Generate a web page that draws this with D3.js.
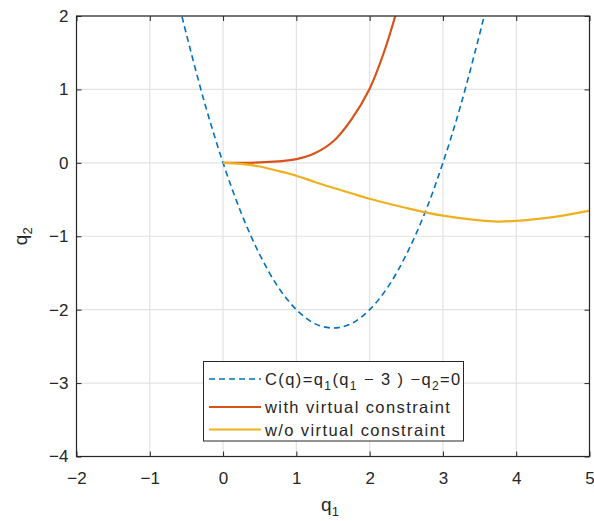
<!DOCTYPE html>
<html>
<head>
<meta charset="UTF-8">
<title></title>
<style>
  body { margin: 0; background: #fff; }
  text { font-family: "Liberation Sans", Arial, sans-serif; fill: #262626; }
</style>
</head>
<body>
<script src="https://cdn.jsdelivr.net/npm/d3@7"></script>
<script>

    // constraint curve C(q)=0
    var constraintQ1 = [-0.56, -0.5, -0.25, 0, 0.25, 0.5, 0.75, 1, 1.25, 1.5, 1.75, 2, 2.25, 2.5, 2.75, 3, 3.25, 3.5, 3.56];
    var constraintQ2 = [1.99, 1.75, 0.81, 0, -0.69, -1.25, -1.69, -2, -2.19, -2.25, -2.19, -2, -1.69, -1.25, -0.69, 0, 0.81, 1.75, 1.99];

    // with virtual constraint
    var withQ1 = [0, 0.25, 0.5, 0.75, 1, 1.25, 1.5, 1.75, 2, 2.2, 2.35];
    var withQ2 = [0, 0, 0.005, 0.02, 0.05, 0.13, 0.29, 0.59, 1.01, 1.52, 2.0];

    // without virtual constraint
    var woQ1 = [0, 0.25, 0.5, 0.75, 1, 1.25, 1.5, 1.75, 2, 2.5, 3, 3.5, 3.75, 4, 4.5, 5];
    var woQ2 = [0, -0.015, -0.05, -0.11, -0.175, -0.26, -0.34, -0.415, -0.49, -0.615, -0.72, -0.785, -0.8, -0.79, -0.74, -0.65];

    var xTicks = [-2, -1, 0, 1, 2, 3, 4, 5];
    var yTicks = [-4, -3, -2, -1, 0, 1, 2];

    var w = 594, h = 521;
    var pLeft = 76.5, pRight = 589.5, pTop = 16, pBottom = 456.5;

    var svg = d3.select('body').append('svg')
            .attr('width', w)
            .attr('height', h);

    var x = d3.scaleLinear().domain([-2, 5]).range([pLeft, pRight]);
    var y = d3.scaleLinear().domain([-4, 2]).range([pBottom, pTop]);

    var fmt = function(d) { return d < 0 ? '\u2212' + (-d) : d; };

    // grid
    svg.append('g').selectAll('line')
            .data(xTicks)
            .enter().append('line')
            .attr('x1', function(d) { return x(d); })
            .attr('x2', function(d) { return x(d); })
            .attr('y1', pTop).attr('y2', pBottom)
            .attr('stroke', '#e3e3e3').attr('stroke-width', 1.2);
    svg.append('g').selectAll('line')
            .data(yTicks)
            .enter().append('line')
            .attr('y1', function(d) { return y(d); })
            .attr('y2', function(d) { return y(d); })
            .attr('x1', pLeft).attr('x2', pRight)
            .attr('stroke', '#e3e3e3').attr('stroke-width', 1.2);

    svg.append('clipPath').attr('id', 'clip')
            .append('rect')
            .attr('x', pLeft).attr('y', pTop)
            .attr('width', pRight - pLeft).attr('height', pBottom - pTop);

    var line = d3.line()
            .x(function(d) { return x(d[0]); })
            .y(function(d) { return y(d[1]); })
            .curve(d3.curveCatmullRom);

    var plot = svg.append('g').attr('clip-path', 'url(#clip)');

    plot.append('path')
            .attr('d', line(d3.zip(constraintQ1, constraintQ2)))
            .attr('fill', 'none')
            .attr('stroke', '#0072BD')
            .attr('stroke-width', 1.6)
            .attr('stroke-dasharray', '6,4');

    plot.append('path')
            .attr('d', line(d3.zip(withQ1, withQ2)))
            .attr('fill', 'none')
            .attr('stroke', '#D95319')
            .attr('stroke-width', 2.2);

    plot.append('path')
            .attr('d', line(d3.zip(woQ1, woQ2)))
            .attr('fill', 'none')
            .attr('stroke', '#EDB120')
            .attr('stroke-width', 2.2);

    // axes: ticks inside on all four sides
    var tk = 5;
    function styleAxis(g) {
        g.select('.domain').remove();
        g.selectAll('line').attr('stroke', '#262626');
        g.selectAll('text').attr('font-size', 17).attr('fill', '#262626')
                .attr('font-family', '"Liberation Sans", Arial, sans-serif');
    }
    svg.append('g')
            .attr('transform', 'translate(0,' + pBottom + ')')
            .call(d3.axisBottom(x).tickValues(xTicks).tickSizeInner(-tk).tickSizeOuter(0).tickPadding(15).tickFormat(fmt))
            .call(styleAxis);
    svg.append('g')
            .attr('transform', 'translate(0,' + pTop + ')')
            .call(d3.axisTop(x).tickValues(xTicks).tickSizeInner(-tk).tickSizeOuter(0).tickFormat(''))
            .call(styleAxis);
    svg.append('g')
            .attr('transform', 'translate(' + pLeft + ',0)')
            .call(d3.axisLeft(y).tickValues(yTicks).tickSizeInner(-tk).tickSizeOuter(0).tickPadding(8).tickFormat(fmt))
            .call(styleAxis);
    svg.append('g')
            .attr('transform', 'translate(' + pRight + ',0)')
            .call(d3.axisRight(y).tickValues(yTicks).tickSizeInner(-tk).tickSizeOuter(0).tickFormat(''))
            .call(styleAxis);

    svg.append('rect')
            .attr('x', pLeft).attr('y', pTop)
            .attr('width', pRight - pLeft).attr('height', pBottom - pTop)
            .attr('fill', 'none')
            .attr('stroke', '#262626')
            .attr('stroke-width', 1.2);

    // axis labels
    var xl = svg.append('text')
            .attr('x', 330).attr('y', 511)
            .attr('text-anchor', 'middle')
            .attr('font-size', 19);
    xl.append('tspan').text('q');
    xl.append('tspan').attr('dy', 5).attr('font-size', 13).text('1');

    var yl = svg.append('text')
            .attr('transform', 'translate(27,' + ((pTop + pBottom) / 2) + ') rotate(-90)')
            .attr('text-anchor', 'middle')
            .attr('font-size', 19);
    yl.append('tspan').text('q');
    yl.append('tspan').attr('dy', 5).attr('font-size', 13).text('2');

    // legend
    var lg = svg.append('g');
    lg.append('rect')
            .attr('x', 203.5).attr('y', 361.5)
            .attr('width', 260).attr('height', 79.5)
            .attr('fill', '#fff')
            .attr('stroke', '#262626')
            .attr('stroke-width', 1);

    var rows = [
        {y: 379, color: '#0072BD', dash: '6,4', w: 1.6},
        {y: 407, color: '#D95319', dash: null, w: 2.2},
        {y: 429.5, color: '#EDB120', dash: null, w: 2.2}
    ];
    lg.selectAll('line.key')
            .data(rows)
            .enter().append('line')
            .attr('x1', 209).attr('x2', 261)
            .attr('y1', function(d) { return d.y; })
            .attr('y2', function(d) { return d.y; })
            .attr('stroke', function(d) { return d.color; })
            .attr('stroke-width', function(d) { return d.w; })
            .attr('stroke-dasharray', function(d) { return d.dash; });

    var ls = 1.4;
    var t1 = lg.append('text').attr('x', 265).attr('y', 384.5).attr('font-size', 16.5).attr('letter-spacing', ls);
    t1.append('tspan').text('C(q)=q');
    t1.append('tspan').attr('dy', 5).attr('font-size', 12).text('1');
    t1.append('tspan').attr('dy', -5).text('(q');
    t1.append('tspan').attr('dy', 5).attr('font-size', 12).text('1');
    t1.append('tspan').attr('dy', -5).text(' \u2212 3 ) \u2212q');
    t1.append('tspan').attr('dy', 5).attr('font-size', 12).text('2');
    t1.append('tspan').attr('dy', -5).text('=0');

    lg.append('text').attr('x', 265).attr('y', 413).attr('font-size', 16.5).attr('letter-spacing', ls).text('with virtual constraint');
    lg.append('text').attr('x', 265).attr('y', 435.5).attr('font-size', 16.5).attr('letter-spacing', ls).text('w/o virtual constraint');

</script>
</body>
</html>
